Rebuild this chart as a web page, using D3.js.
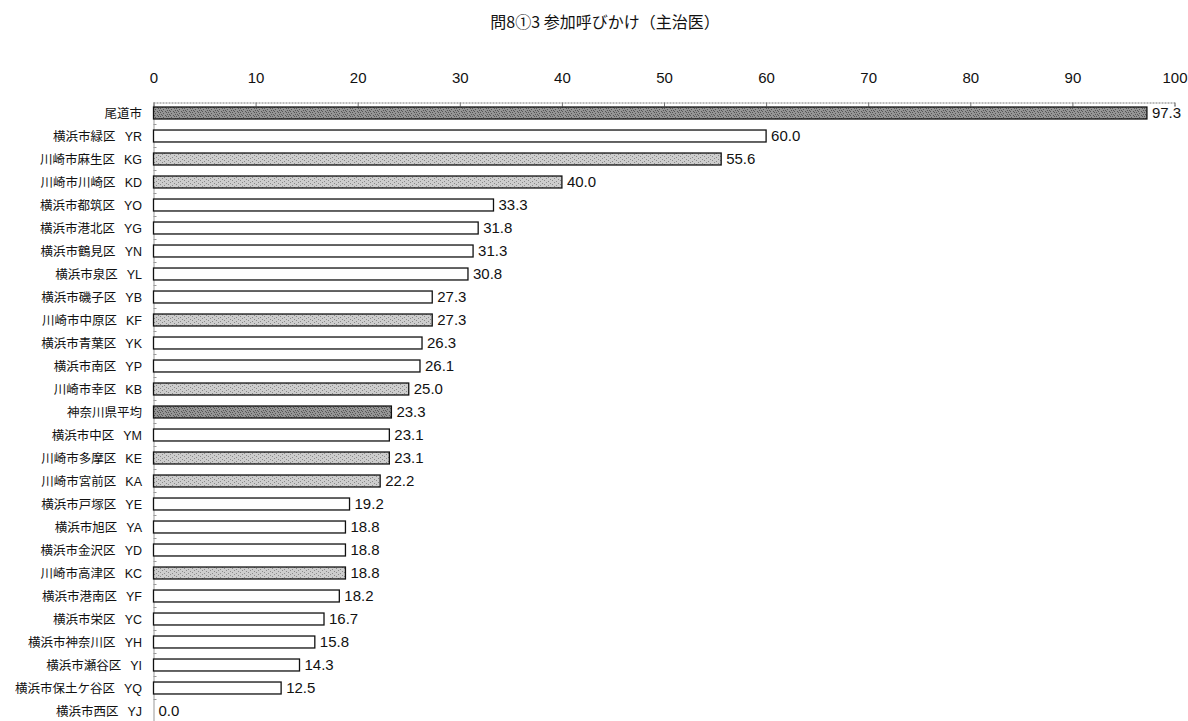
<!DOCTYPE html>
<html>
<head>
<meta charset="utf-8">
<script src="https://cdn.jsdelivr.net/npm/d3@7/dist/d3.min.js"></script>
<style>
  body { margin: 0; background: #fff; }
  svg { display: block; }
  text { font-family: "Liberation Sans", Arial, "Noto Sans CJK JP", sans-serif; fill: #111; }
</style>
</head>
<body>
<svg id="chart" width="1188" height="721"></svg>
<script>
// 問8①3 参加呼びかけ（主治医） — 地域別の割合（%）
const titleText = "問8①3 参加呼びかけ（主治医）";

const names = [
  "尾道市", "横浜市緑区", "川崎市麻生区", "川崎市川崎区", "横浜市都筑区", "横浜市港北区",
  "横浜市鶴見区", "横浜市泉区", "横浜市磯子区", "川崎市中原区", "横浜市青葉区", "横浜市南区",
  "川崎市幸区", "神奈川県平均", "横浜市中区", "川崎市多摩区", "川崎市宮前区", "横浜市戸塚区",
  "横浜市旭区", "横浜市金沢区", "川崎市高津区", "横浜市港南区", "横浜市栄区", "横浜市神奈川区",
  "横浜市瀬谷区", "横浜市保土ケ谷区", "横浜市西区"
];
const codes = [
  "", "YR", "KG", "KD", "YO", "YG",
  "YN", "YL", "YB", "KF", "YK", "YP",
  "KB", "", "YM", "KE", "KA", "YE",
  "YA", "YD", "KC", "YF", "YC", "YH",
  "YI", "YQ", "YJ"
];
const values = [
  97.3, 60.0, 55.6, 40.0, 33.3, 31.8,
  31.3, 30.8, 27.3, 27.3, 26.3, 26.1,
  25.0, 23.3, 23.1, 23.1, 22.2, 19.2,
  18.8, 18.8, 18.8, 18.2, 16.7, 15.8,
  14.3, 12.5, 0.0
];
// group: "ref" = 比較対象（尾道市・県平均）, "kawasaki" = 川崎市, "yokohama" = 横浜市
const groups = [
  "ref", "yokohama", "kawasaki", "kawasaki", "yokohama", "yokohama",
  "yokohama", "yokohama", "yokohama", "kawasaki", "yokohama", "yokohama",
  "kawasaki", "ref", "yokohama", "kawasaki", "kawasaki", "yokohama",
  "yokohama", "yokohama", "kawasaki", "yokohama", "yokohama", "yokohama",
  "yokohama", "yokohama", "yokohama"
];
const tickValues = [0, 10, 20, 30, 40, 50, 60, 70, 80, 90, 100];

const rows = names.map((n, i) => ({
  name: n, code: codes[i], value: values[i], group: groups[i], key: i
}));

const svg = d3.select("#chart");
const axisTop = 102.5, axisLeft = 153.5;
const rowStep = 23;

const x = d3.scaleLinear().domain([0, 100]).range([axisLeft, 1174.5]);
const y = d3.scaleBand()
  .domain(rows.map(d => d.key))
  .range([101.5, 101.5 + rowStep * rows.length])
  .paddingInner(0.48)
  .paddingOuter(0.24);

// fill textures
const defs = svg.append("defs");
function speckle(id, base, dot, density) {
  const p = defs.append("pattern")
    .attr("id", id).attr("patternUnits", "userSpaceOnUse")
    .attr("width", 8).attr("height", 4);
  p.append("rect").attr("width", 8).attr("height", 4).attr("fill", base);
  const pts = density === "dense"
    ? [[0,0],[3,1],[6,0],[1,2],[5,3],[7,2],[2,3]]
    : [[0,0],[4,1],[2,2],[6,3]];
  pts.forEach(([px, py]) => p.append("rect")
    .attr("x", px).attr("y", py).attr("width", 1).attr("height", 1).attr("fill", dot));
}
speckle("fill-ref", "#959595", "#555555", "dense");
speckle("fill-kawasaki", "#cdcdcd", "#8a8a8a", "sparse");
const fills = { ref: "url(#fill-ref)", kawasaki: "url(#fill-kawasaki)", yokohama: "#ffffff" };

// title
svg.append("text")
  .attr("x", 605).attr("y", 28)
  .attr("text-anchor", "middle")
  .style("font-size", "16px")
  .style("font-family", "'Noto Sans CJK JP', sans-serif")
  .text(titleText);

// top axis
const xAxis = d3.axisTop(x).tickValues(tickValues).tickSize(-4).tickPadding(0);
const gx = svg.append("g").attr("transform", `translate(0,${axisTop})`).call(xAxis);
gx.select(".domain").attr("stroke", "#777").attr("stroke-dasharray", "2,1");
gx.selectAll(".tick line").attr("stroke", "#777");
gx.selectAll(".tick text")
  .attr("y", -20)
  .style("font-size", "15px")
  .style("font-family", "'Liberation Sans', Arial, sans-serif")
  .attr("fill", "#111");

// left axis
const yAxis = d3.axisLeft(y).tickSize(0).tickFormat("");
const gy = svg.append("g").attr("transform", `translate(${axisLeft},0)`).call(yAxis);
gy.select(".domain").attr("stroke", "#999");
// category boundary ticks
svg.append("g").selectAll("line")
  .data(rows.slice(1))
  .join("line")
  .attr("x1", axisLeft).attr("x2", axisLeft + 3)
  .attr("y1", d => y(d.key) - y.step() * y.paddingInner() / 2)
  .attr("y2", d => y(d.key) - y.step() * y.paddingInner() / 2)
  .attr("stroke", "#999");

// category labels
const labels = svg.append("g").selectAll("text")
  .data(rows)
  .join("text")
  .attr("x", 142)
  .attr("y", d => y(d.key) + y.bandwidth() / 2)
  .attr("dy", "0.36em")
  .attr("text-anchor", "end")
  .style("font-size", "12.5px")
  .style("font-family", "'Noto Sans CJK JP', sans-serif");
labels.append("tspan").text(d => d.name);
labels.filter(d => d.code).append("tspan")
  .attr("dx", 9)
  .style("font-family", "'Liberation Sans', Arial, sans-serif")
  .text(d => d.code);

// bars
svg.append("g").selectAll("rect")
  .data(rows.filter(d => d.value > 0))
  .join("rect")
  .attr("x", x(0))
  .attr("y", d => y(d.key))
  .attr("width", d => x(d.value) - x(0))
  .attr("height", y.bandwidth())
  .attr("fill", d => fills[d.group])
  .attr("stroke", "#111")
  .attr("stroke-width", 1.3);

// value labels
svg.append("g").selectAll("text")
  .data(rows)
  .join("text")
  .attr("x", d => x(d.value) + 5)
  .attr("y", d => y(d.key) + y.bandwidth() / 2)
  .attr("dy", "0.36em")
  .style("font-size", "15px")
  .style("font-family", "'Liberation Sans', Arial, sans-serif")
  .text(d => d.value.toFixed(1));
</script>
</body>
</html>
